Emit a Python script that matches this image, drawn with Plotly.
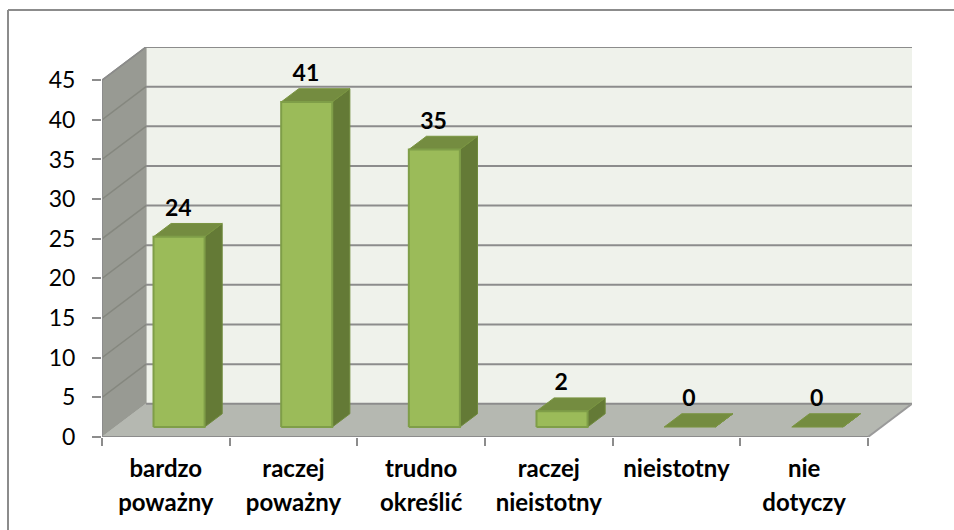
import plotly.graph_objects as go

categories_line1 = ["bardzo", "raczej", "trudno", "raczej", "nieistotny", "nie"]
categories_line2 = ["poważny", "poważny", "określić", "nieistotny", "", "dotyczy"]
values = [24, 41, 35, 2, 0, 0]
y_ticks = [0, 5, 10, 15, 20, 25, 30, 35, 40, 45]

# oblique projection of the 3D box, in axis units
PX_X, PX_Y = 127.5, 7.88
DX, DY = 44 / PX_X, 33 / PX_Y
N = len(values)
YMAX = 45
FRONT, BACK = 0.3, 0.7
BAR_L, BAR_R = 0.3, 0.7
M_T, M_B = 47, 93
PLOT_H = 530 - M_T - M_B

GRID = "#8C8C8C"
WALL = "#EFF2EB"
SIDE_WALL = "#989A93"
FLOOR = "#B5B8B1"
BAR_FRONT = "#9BBB59"
BAR_EDGE = "#7F9E48"
BAR_TOP = "#748C40"
BAR_SIDE = "#647A36"


def proj(x, v, t):
    return x + DX * t, v + DY * t


def poly(points, fill, line=None, width=1):
    xs = [p[0] for p in points] + [points[0][0]]
    ys = [p[1] for p in points] + [points[0][1]]
    return go.Scatter(x=xs, y=ys, mode="lines", fill="toself", fillcolor=fill,
                      line=dict(color=line or fill, width=width), hoverinfo="skip",
                      showlegend=False)


def seg(p, q, color=GRID, width=2):
    return go.Scatter(x=[p[0], q[0]], y=[p[1], q[1]], mode="lines",
                      line=dict(color=color, width=width), hoverinfo="skip",
                      showlegend=False)


fig = go.Figure()
# walls and floor
fig.add_trace(poly([proj(0, 0, 1), proj(N, 0, 1), proj(N, YMAX, 1), proj(0, YMAX, 1)], WALL))
fig.add_trace(poly([proj(0, 0, 0), proj(0, 0, 1), proj(0, YMAX, 1), proj(0, YMAX, 0)], SIDE_WALL))
fig.add_trace(poly([proj(0, 0, 0), proj(N, 0, 0), proj(N, 0, 1), proj(0, 0, 1)], FLOOR))
# gridlines
for v in y_ticks:
    if v > 0:
        fig.add_trace(seg(proj(0, v, 0), proj(0, v, 1), "#85877F", 1.5))
    fig.add_trace(seg(proj(0, v, 1), proj(N, v, 1)))
# box edges
fig.add_trace(seg(proj(N, 0, 0), proj(N, 0, 1), "#9A9A9A", 2))
fig.add_trace(seg(proj(0, 0, 0), proj(N, 0, 0)))
fig.add_trace(seg(proj(0, 0, 0), proj(0, YMAX, 0)))
fig.add_trace(seg(proj(0, YMAX, 0), proj(0, YMAX, 1), "#8C8C8C", 1.5))

# bars
for i, v in enumerate(values):
    xl, xr = i + BAR_L, i + BAR_R
    fig.add_trace(poly([proj(xr, 0, FRONT), proj(xr, 0, BACK), proj(xr, v, BACK), proj(xr, v, FRONT)],
                       BAR_SIDE, "#6F8A3C", 1))
    fig.add_trace(poly([proj(xl, v, FRONT), proj(xr, v, FRONT), proj(xr, v, BACK), proj(xl, v, BACK)],
                       BAR_TOP, "#7A9540", 1))
    if v > 0:
        fig.add_trace(poly([proj(xl, 0, FRONT), proj(xr, 0, FRONT), proj(xr, v, FRONT), proj(xl, v, FRONT)],
                           BAR_FRONT, BAR_EDGE, 2))

# value labels
fig.add_trace(go.Scatter(
    x=[i + 0.5 + DX * 0.5 - 0.075 for i in range(N)],
    y=[v + DY * BACK + 0.25 for v in values],
    mode="text", text=[str(v) for v in values], textposition="top center",
    textfont=dict(family="Lato", size=23, color="#000000", weight="bold"),
    hoverinfo="skip", showlegend=False, cliponaxis=False))

# a hidden trace so the second x axis (second label line) is drawn
fig.add_trace(go.Scatter(x=[0], y=[0], xaxis="x2", mode="markers", marker=dict(opacity=0),
                         hoverinfo="skip", showlegend=False))

xr_max = N + DX
yr_max = YMAX + DY
centers = [i + 0.5 for i in range(N)]
fig.update_layout(
    width=954, height=530, autosize=False,
    paper_bgcolor="white", plot_bgcolor="white",
    margin=dict(l=102, r=42, t=M_T, b=M_B),
    font=dict(family="Lato", color="#000000"),
    showlegend=False,
    xaxis=dict(range=[0, xr_max], showgrid=False, zeroline=False, showline=False,
               tickmode="array", tickvals=centers, ticktext=categories_line1,
               ticks="", ticklabelstandoff=15,
               tickfont=dict(family="Lato", size=24, color="#000000", weight="bold"),
               minor=dict(tickmode="array", tickvals=list(range(N + 1)), ticks="outside",
                          ticklen=8, tickwidth=2, tickcolor=GRID, showgrid=False)),
    xaxis2=dict(range=[0, xr_max], overlaying="x", side="bottom", anchor="y",
                showgrid=False, zeroline=False, showline=False,
                tickmode="array", tickvals=centers, ticktext=categories_line2,
                ticks="", ticklabelstandoff=49,
                tickfont=dict(family="Lato", size=24, color="#000000", weight="bold")),
    yaxis=dict(range=[0, yr_max], showgrid=False, zeroline=False, showline=False,
               tickmode="array", tickvals=y_ticks, ticks="outside", ticklen=9, tickwidth=2,
               tickcolor=GRID, ticklabelstandoff=12,
               tickfont=dict(family="Lato", size=23, color="#000000")),
    shapes=[dict(type="line", xref="paper", yref="paper", x0=-94 / 810, x1=852 / 810,
                 y0=(PLOT_H + M_T - 10) / PLOT_H, y1=(PLOT_H + M_T - 10) / PLOT_H,
                 line=dict(color="#8C8C8C", width=2)),
            dict(type="line", xref="paper", yref="paper", x0=-94 / 810, x1=-94 / 810,
                 y0=-M_B / PLOT_H, y1=(PLOT_H + M_T - 10) / PLOT_H,
                 line=dict(color="#8C8C8C", width=2))],
)
fig.write_html("out.html", config=dict(displayModeBar=False),
               post_script="document.body.style.margin='0';document.documentElement.style.overflow='hidden';")
